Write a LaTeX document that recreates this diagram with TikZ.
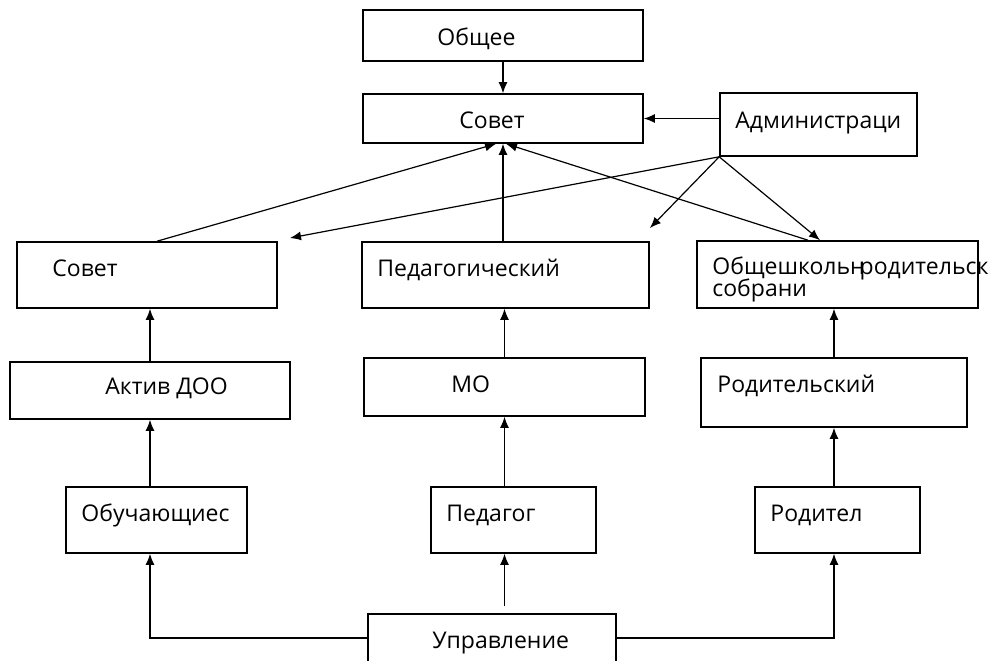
\documentclass[tikz,border=0pt]{standalone}
\usepackage{fontspec}
\setmainfont{Open Sans}
\usetikzlibrary{arrows.meta}

\newcommand{\blk}[5]{\node[box,minimum width={(#4-#2)*0.5pt},minimum height={(#5-#3)*0.5pt}] (#1) at ({(#2+#4)/2},{(#3+#5)/2}) {};}

\begin{document}
\begin{tikzpicture}[x=0.5pt,y=-0.5pt,
  box/.style={draw,line width=0.8pt,inner sep=0pt},
  txt/.style={anchor=base west,inner sep=0pt,font=\fontsize{11.5}{11.5}\selectfont},
  arr/.style={-{Latex[length=5.5pt,width=4.5pt]},line width=0.6pt}]

\path[use as bounding box,fill=white] (0,0) rectangle (991,660);

\blk{obshee}{363}{10}{643}{61}
\blk{sovet}{363}{94}{643}{143}
\blk{admin}{720}{93}{917}{156}
\blk{sovetL}{17}{242}{277}{308}
\blk{ped}{362}{242}{649}{308}
\blk{obshsh}{697}{241}{978}{308}
\blk{aktiv}{10}{362}{290}{419}
\blk{mo}{364}{358}{645}{416}
\blk{rodsk}{701}{358}{967}{427}
\blk{obuch}{66}{487}{247}{553}
\blk{pedagog}{431}{487}{596}{553}
\blk{roditel}{755}{487}{920}{553}
\blk{uprav}{368}{614}{616}{662}

\node[txt] (t-obshee) at (437,45) {Общее};
\node[txt] (t-sovet) at (459,128) {Совет};
\node[txt] (t-admin) at (735,128) {Администраци};
\node[txt] (t-sovetL) at (52,276) {Совет};
\node[txt] (t-ped) at (377,276) {Педагогический};
\node[txt] (t-obshsh1) at (712,274) {Общешкольн\kern-2.5pt родительск};
\node[txt] (t-obshsh2) at (712,296) {собрани};
\node[txt] (t-aktiv) at (105,394) {Актив ДОО};
\node[txt] (t-mo) at (451,392) {МО};
\node[txt] (t-rodsk) at (717,392) {Родительский};
\node[txt] (t-obuch) at (81,521) {Обучающиес};
\node[txt] (t-pedagog) at (446,521) {Педагог};
\node[txt] (t-roditel) at (770,521) {Родител};
\node[txt] (t-uprav) at (432,648) {Управление};

% top part
\draw[arr] (obshee.south) -- (sovet.north);
\draw[arr] (admin.west |- sovet.east) -- (sovet.east);
\draw[arr] ([xshift=5pt]sovetL.north) -- ([xshift=-3.5pt]sovet.south);
\draw[arr] (ped.north -| sovet.south) -- (sovet.south);
\draw[arr] ([xshift=-14.75pt]obshsh.north) -- ([xshift=1.5pt]sovet.south);

\coordinate (aL) at (290,238);
\coordinate (aM) at (650,228);
\draw[arr] (admin.south west) -- (aL);
\draw[arr] (admin.south west) -- (aM);
\draw[arr] (admin.south west) -- ([xshift=-8.75pt]obshsh.north);

% columns
\draw[arr] (aktiv.north) -- (aktiv.north |- sovetL.south);
\draw[arr] (mo.north) -- (mo.north |- ped.south);
\draw[arr] (rodsk.north) -- (rodsk.north |- obshsh.south);
\draw[arr] (aktiv.south |- obuch.north) -- (aktiv.south);
\draw[arr] (mo.south |- pedagog.north) -- (mo.south);
\draw[arr] (rodsk.south |- roditel.north) -- (rodsk.south);

% bottom
\coordinate (upm) at ([yshift=3.5pt]uprav.north);
\draw[arr] (uprav.west) -| (aktiv.south |- obuch.south);
\draw[arr] (uprav.east) -| (rodsk.south |- roditel.south);
\draw[arr] (upm -| mo.south) -- (mo.south |- pedagog.south);
\end{tikzpicture}
\end{document}
